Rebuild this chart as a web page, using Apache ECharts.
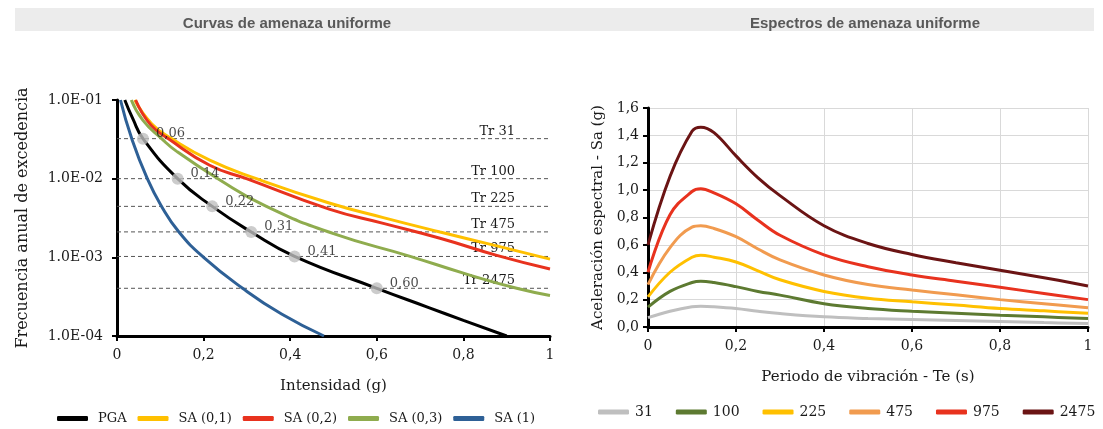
<!DOCTYPE html>
<html>
<head>
<meta charset="utf-8">
<script src="https://cdn.jsdelivr.net/npm/echarts@6/dist/echarts.min.js"></script>
<style>
  html, body { margin: 0; padding: 0; background: #ffffff; }
  #chart { width: 1103px; height: 429px; }
</style>
</head>
<body>
<div id="chart"></div>
<script>
// ---- Curvas de amenaza uniforme: [intensity (g), annual exceedance frequency]
const curvePGA  = [[0.018, 0.1], [0.037, 0.057], [0.06, 0.0323], [0.14, 0.01], [0.22, 0.00444], [0.31, 0.0021], [0.41, 0.00103], [0.60, 0.000404], [0.72, 0.00023], [0.80, 0.000158], [0.90, 0.0001]];
const curveSA01 = [[0.041, 0.1], [0.08, 0.05], [0.126, 0.0323], [0.214, 0.0172], [0.322, 0.01], [0.49, 0.0049], [0.615, 0.0032], [0.746, 0.0021], [0.877, 0.0014], [1.0, 0.00095]];
const curveSA02 = [[0.043, 0.1], [0.078, 0.048], [0.118, 0.0323], [0.214, 0.0148], [0.299, 0.01], [0.49, 0.0041], [0.615, 0.0027], [0.746, 0.00175], [0.877, 0.00106], [1.0, 0.00071]];
const curveSA03 = [[0.033, 0.1], [0.06, 0.055], [0.103, 0.0323], [0.137, 0.0224], [0.233, 0.01], [0.345, 0.00444], [0.50, 0.002], [0.677, 0.00103], [0.80, 0.00063], [0.923, 0.000404], [1.0, 0.000328]];
const curveSA1  = [[0.008, 0.1], [0.034, 0.0323], [0.07, 0.01], [0.103, 0.00444], [0.143, 0.0021], [0.20, 0.001], [0.29, 0.000404], [0.38, 0.00019], [0.478, 0.0001]];

// Return periods (years) and PGA read at each one
const returnPeriods = [31, 100, 225, 475, 975, 2475];
const pgaAtReturnPeriod = [0.06, 0.14, 0.22, 0.31, 0.41, 0.60];

const curveNames = ['PGA', 'SA (0,1)', 'SA (0,2)', 'SA (0,3)', 'SA (1)'];
const curveColors = ['#000000', '#ffc000', '#e8321e', '#8fac4e', '#2e6096'];

const leftXTicks = ['0', '0,2', '0,4', '0,6', '0,8', '1'];
const leftYTicks = ['1.0E-04', '1.0E-03', '1.0E-02', '1.0E-01'];

// ---- Espectros de amenaza uniforme: period (s) vs Sa (g) for each return period
const periods = [0, 0.05, 0.1, 0.12, 0.15, 0.2, 0.25, 0.3, 0.4, 0.5, 0.6, 0.7, 0.8, 0.9, 1.0];
const sa31   = [0.068, 0.115, 0.148, 0.152, 0.148, 0.135, 0.115, 0.098, 0.074, 0.062, 0.054, 0.047, 0.040, 0.032, 0.025];
const sa100  = [0.145, 0.26, 0.325, 0.335, 0.325, 0.295, 0.26, 0.233, 0.17, 0.135, 0.115, 0.10, 0.086, 0.074, 0.062];
const sa225  = [0.22, 0.40, 0.51, 0.525, 0.51, 0.475, 0.41, 0.345, 0.26, 0.21, 0.184, 0.16, 0.135, 0.118, 0.10];
const sa475  = [0.31, 0.58, 0.73, 0.74, 0.72, 0.66, 0.57, 0.49, 0.38, 0.31, 0.27, 0.235, 0.20, 0.17, 0.14];
const sa975  = [0.40, 0.82, 0.99, 1.01, 0.98, 0.90, 0.78, 0.67, 0.527, 0.44, 0.38, 0.335, 0.29, 0.245, 0.20];
const sa2475 = [0.60, 1.10, 1.43, 1.46, 1.42, 1.25, 1.09, 0.96, 0.74, 0.61, 0.53, 0.47, 0.415, 0.36, 0.30];

const spectraNames = ['31', '100', '225', '475', '975', '2475'];
const spectraColors = ['#bfbfbf', '#5d7a31', '#ffc000', '#f19b4f', '#e8321e', '#6b1414'];
const spectraValues = [sa31, sa100, sa225, sa475, sa975, sa2475];

const rightXTicks = ['0', '0,2', '0,4', '0,6', '0,8', '1'];
const rightYTicks = ['0,0', '0,2', '0,4', '0,6', '0,8', '1,0', '1,2', '1,4', '1,6'];

const SERIF = 'DejaVu Serif';
const SANS = 'Liberation Sans';

const chart = echarts.init(document.getElementById('chart'), null, { renderer: 'canvas' });

const hazardCurves = [curvePGA, curveSA01, curveSA02, curveSA03, curveSA1];

const series = [];

// Dashed return-period lines, each labelled "Tr ..." near its right end
returnPeriods.forEach(tr => {
  series.push({
    type: 'line', name: 'Tr ' + tr, xAxisIndex: 0, yAxisIndex: 0, silent: true,
    data: [[0, 1 / tr], [1, 1 / tr]], showSymbol: false, z: 1,
    lineStyle: { type: [4, 3], color: '#555555', width: 1 },
    endLabel: {
      show: true, formatter: 'Tr ' + tr, distance: 0,
      align: 'right', verticalAlign: 'bottom', offset: [-35, -1],
      fontFamily: SERIF, fontSize: 13, color: '#1a1a1a'
    }
  });
});

hazardCurves.forEach((c, i) => {
  series.push({
    type: 'line', name: curveNames[i], xAxisIndex: 0, yAxisIndex: 0,
    data: c, showSymbol: false, smooth: 0.5,
    lineStyle: { color: curveColors[i], width: 3 },
    itemStyle: { color: curveColors[i] },
    z: 3 + (i === 0 ? 2 : 0)
  });
});

// PGA at each return period
series.push({
  type: 'scatter', name: 'PGA Tr', xAxisIndex: 0, yAxisIndex: 0,
  data: pgaAtReturnPeriod.map((v, i) => [v, 1 / returnPeriods[i]]),
  symbolSize: 12, itemStyle: { color: '#bfbfbf' }, z: 6,
  label: {
    show: true, position: 'right', offset: [0, -5], distance: 7,
    formatter: p => p.value[0].toFixed(2).replace('.', ','),
    fontFamily: SERIF, fontSize: 13, color: '#1a1a1a'
  }
});

spectraValues.forEach((vals, i) => {
  series.push({
    type: 'line', name: spectraNames[i], xAxisIndex: 1, yAxisIndex: 1,
    data: periods.map((t, k) => [t, vals[k]]),
    showSymbol: false, smooth: 0.4,
    lineStyle: { color: spectraColors[i], width: 3 },
    itemStyle: { color: spectraColors[i] }
  });
});

const tickText = { fontFamily: SERIF, fontSize: 14, color: '#1a1a1a' };
const nameText = { fontFamily: SERIF, fontSize: 15, color: '#1a1a1a' };

chart.setOption({
  animation: false,
  backgroundColor: '#ffffff',
  graphic: [{
    type: 'rect', shape: { x: 15, y: 8, width: 1079, height: 23 },
    style: { fill: '#ececec' }, z: -10, silent: true
  }],
  title: [
    { text: 'Curvas de amenaza uniforme', left: 282, top: 11, textAlign: 'center',
      textStyle: { fontFamily: SANS, fontSize: 15, fontWeight: 'bold', color: '#595959' } },
    { text: 'Espectros de amenaza uniforme', left: 860, top: 11, textAlign: 'center',
      textStyle: { fontFamily: SANS, fontSize: 15, fontWeight: 'bold', color: '#595959' } }
  ],
  legend: [
    { data: curveNames, left: 57, top: 412, padding: 0, icon: 'roundRect', itemWidth: 31, itemHeight: 5,
      itemGap: 11, textStyle: { fontFamily: SERIF, fontSize: 13, color: '#1a1a1a', padding: [0, 0, 0, 5] } },
    { data: spectraNames, left: 598, top: 405, width: 505, padding: 0, icon: 'roundRect', itemWidth: 31, itemHeight: 5,
      itemGap: 23, textStyle: { fontFamily: SERIF, fontSize: 14, color: '#1a1a1a', padding: [0, 0, 0, 1] } }
  ],
  grid: [
    { left: 117, top: 100, width: 433, height: 236 },
    { left: 648, top: 108, width: 440, height: 219 }
  ],
  xAxis: [
    { type: 'value', gridIndex: 0, min: 0, max: 1, interval: 0.2,
      name: 'Intensidad (g)', nameLocation: 'middle', nameGap: 43, nameTextStyle: nameText,
      axisLine: { lineStyle: { color: '#000', width: 3 } },
      axisTick: { show: true, length: 5, lineStyle: { color: '#000', width: 2 } },
      axisLabel: { ...tickText, margin: 12, formatter: v => leftXTicks[Math.round(v / 0.2)] },
      splitLine: { show: false } },
    { type: 'value', gridIndex: 1, min: 0, max: 1, interval: 0.2,
      name: 'Periodo de vibración - Te (s)', nameLocation: 'middle', nameGap: 43, nameTextStyle: nameText,
      axisLine: { lineStyle: { color: '#000', width: 3 } },
      axisTick: { show: true, length: 5, lineStyle: { color: '#000', width: 2 } },
      axisLabel: { ...tickText, margin: 12, formatter: v => rightXTicks[Math.round(v / 0.2)] },
      splitLine: { show: true, lineStyle: { color: '#d9d9d9', width: 1 } } }
  ],
  yAxis: [
    { type: 'log', gridIndex: 0, logBase: 10, min: 0.0001, max: 0.1,
      name: 'Frecuencia anual de excedencia', nameLocation: 'middle', nameGap: 86,
      nameTextStyle: { ...nameText, fontSize: 16 },
      axisLine: { show: true, lineStyle: { color: '#000', width: 3 } },
      axisTick: { show: true, length: 5, lineStyle: { color: '#000', width: 2 } },
      minorTick: { show: false },
      axisLabel: { ...tickText, margin: 14, formatter: v => leftYTicks[Math.round(Math.log10(v)) + 4] },
      splitLine: { show: false } },
    { type: 'value', gridIndex: 1, min: 0, max: 1.6, interval: 0.2,
      name: 'Aceleración espectral - Sa (g)', nameLocation: 'middle', nameGap: 42, nameTextStyle: nameText,
      axisLine: { show: true, lineStyle: { color: '#000', width: 3 } },
      axisTick: { show: true, length: 5, lineStyle: { color: '#000', width: 2 } },
      axisLabel: { ...tickText, margin: 9, formatter: v => rightYTicks[Math.round(v / 0.2)] },
      splitLine: { show: true, lineStyle: { color: '#d9d9d9', width: 1 } } }
  ],
  series: series
});
</script>
</body>
</html>
